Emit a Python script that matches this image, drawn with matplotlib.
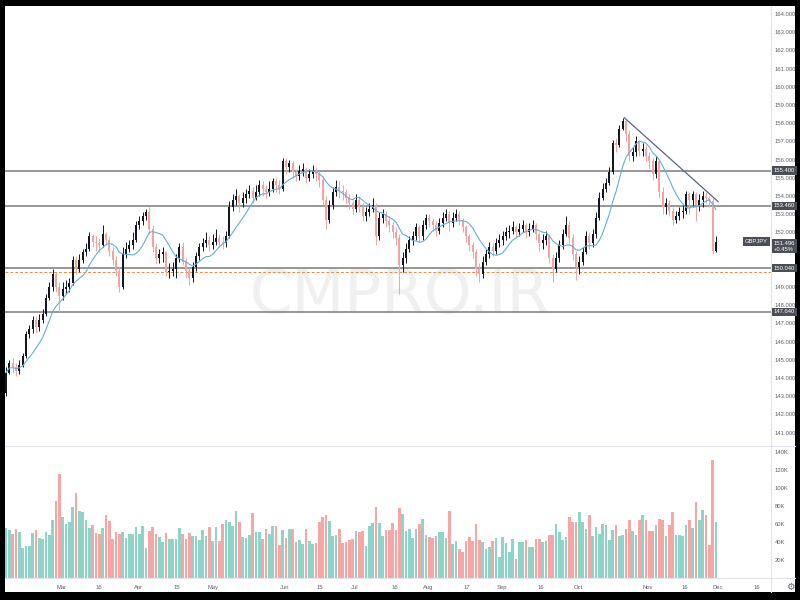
import matplotlib.pyplot as plt
import matplotlib.transforms as mtransforms
from matplotlib.patches import Rectangle
from matplotlib.lines import Line2D
import numpy as np
import pandas as pd

# GBPJPY daily, Feb - Nov 2021
first_open = 143.2
closes = [144.3, 144.8, 144.6, 144.4, 144.7, 145.2, 146.4, 146.7, 147.2, 146.8,
          147.2, 147.5, 148.4, 149.0, 149.7, 149.0, 148.5, 148.9, 149.0, 149.2,
          150.5, 150.0, 150.5, 150.9, 151.1, 151.8, 151.5, 151.4, 151.3, 151.9,
          151.6, 151.0, 150.5, 149.9, 149.0, 150.8, 151.1, 151.3, 151.6, 152.4,
          152.6, 152.9, 153.1, 152.2, 151.2, 150.6, 150.8, 150.9, 149.8, 149.9,
          150.0, 150.6, 151.2, 150.4, 149.9, 149.5, 150.1, 150.7, 151.2, 151.4,
          151.6, 151.3, 151.5, 151.7, 151.5, 151.4, 151.8, 153.4, 153.8, 154.0,
          153.6, 153.9, 154.1, 154.3, 153.9, 154.2, 154.6, 154.4, 154.2, 154.4,
          154.8, 154.6, 154.4, 155.9, 155.6, 155.8, 155.3, 155.1, 155.4, 155.5,
          155.0, 155.2, 155.4, 155.2, 154.9, 153.8, 152.7, 153.5, 154.2, 154.5,
          154.3, 154.2, 153.9, 153.6, 153.3, 153.8, 153.4, 152.9, 153.1, 153.3,
          153.5, 151.8, 152.8, 153.0, 152.6, 152.4, 152.0, 151.7, 150.2, 150.6,
          151.1, 151.6, 151.8, 152.3, 151.8, 152.4, 152.8, 152.6, 152.4, 152.1,
          152.5, 152.8, 153.0, 152.5, 152.8, 153.0, 152.7, 152.3, 151.8, 151.3,
          150.9, 150.0, 149.7, 150.4, 150.8, 151.2, 151.0, 151.4, 151.6, 151.8,
          152.0, 152.1, 152.3, 152.0, 152.2, 152.4, 152.0, 152.2, 152.4, 151.9,
          151.4, 151.6, 151.8, 150.6, 150.0, 150.6, 151.3, 151.9, 152.4, 151.7,
          150.8, 150.1, 150.4, 150.9, 151.8, 151.4, 151.9, 152.8, 153.9, 154.4,
          154.7, 155.3, 156.9, 156.8, 157.7, 158.1, 157.4, 156.2, 156.4, 157.0,
          156.5, 156.6, 156.2, 155.9, 155.2, 155.9, 154.2, 153.4, 153.6, 153.2,
          152.7, 152.9, 153.1, 153.2, 154.1, 153.8, 154.1, 153.5, 153.8, 154.0,
          153.9, 153.7, 151.0, 151.5]
highs = [144.6, 145.0, 145.1, 144.8, 145.0, 145.4, 146.6, 146.9, 147.4, 147.4,
         147.5, 147.8, 148.6, 149.3, 150.0, 149.8, 149.3, 149.3, 149.4, 149.5,
         150.7, 150.7, 150.8, 151.1, 151.4, 152.0, 151.9, 151.8, 151.7, 152.4,
         152.0, 151.8, 151.2, 150.7, 150.1, 151.2, 151.5, 151.6, 152.0, 152.6,
         152.9, 153.1, 153.3, 153.4, 152.4, 151.4, 151.1, 151.2, 151.0, 150.3,
         150.4, 150.8, 151.4, 151.5, 150.6, 150.1, 150.4, 150.9, 151.4, 151.7,
         152.0, 151.8, 151.9, 152.2, 151.9, 151.8, 152.1, 153.7, 154.1, 154.4,
         154.1, 154.2, 154.4, 154.6, 154.5, 154.6, 154.9, 154.8, 154.6, 154.8,
         155.0, 155.0, 154.9, 156.1, 156.1, 156.0, 155.9, 155.5, 155.7, 155.8,
         155.6, 155.5, 155.7, 155.6, 155.4, 155.1, 154.0, 153.8, 154.5, 154.9,
         154.8, 154.6, 154.4, 154.1, 153.8, 154.1, 154.0, 153.6, 153.4, 153.6,
         153.9, 153.6, 153.1, 153.3, 153.2, 152.9, 152.6, 152.3, 151.9, 150.9,
         151.4, 151.8, 152.1, 152.5, 152.4, 152.7, 153.0, 153.0, 152.8, 152.6,
         152.8, 153.1, 153.3, 153.2, 153.1, 153.3, 153.2, 152.8, 152.4, 151.9,
         151.5, 151.1, 150.3, 150.7, 151.1, 151.5, 151.4, 151.7, 151.9, 152.1,
         152.3, 152.4, 152.6, 152.4, 152.5, 152.7, 152.5, 152.5, 152.7, 152.5,
         152.0, 151.9, 152.1, 151.9, 150.8, 150.9, 151.6, 152.2, 152.9, 152.6,
         151.9, 151.0, 150.7, 151.2, 152.1, 152.0, 152.2, 153.1, 154.2, 154.7,
         155.0, 155.6, 157.1, 157.2, 157.9, 158.3, 158.2, 157.6, 156.7, 157.3,
         157.1, 156.9, 156.8, 156.4, 156.1, 156.2, 156.0, 154.5, 153.9, 153.8,
         153.4, 153.2, 153.4, 153.5, 154.3, 154.2, 154.3, 154.2, 154.1, 154.3,
         154.2, 154.0, 153.9, 151.8]
lows = [143.0, 144.2, 144.3, 144.1, 144.2, 144.6, 145.1, 146.2, 146.5, 146.5,
        146.6, 147.0, 147.4, 148.3, 148.8, 148.7, 147.6, 148.3, 148.6, 148.7,
        149.1, 149.7, 149.8, 150.3, 150.7, 151.0, 151.2, 151.0, 150.9, 151.2,
        151.3, 150.7, 150.2, 149.6, 148.7, 148.9, 150.6, 150.9, 151.1, 151.5,
        152.2, 152.4, 152.7, 151.9, 150.9, 150.3, 150.3, 150.4, 149.6, 149.5,
        149.6, 149.5, 150.4, 150.2, 149.5, 149.1, 149.3, 149.9, 150.5, 151.0,
        151.2, 151.0, 151.1, 151.3, 151.2, 151.1, 151.2, 151.7, 153.2, 153.5,
        153.1, 153.4, 153.6, 153.9, 153.6, 153.8, 154.0, 154.0, 153.9, 154.0,
        154.2, 154.2, 154.1, 154.3, 155.2, 155.3, 155.0, 154.8, 154.9, 155.1,
        154.7, 154.8, 155.0, 154.8, 154.5, 153.5, 152.2, 152.5, 153.3, 154.0,
        153.9, 153.8, 153.6, 153.3, 153.0, 153.1, 153.1, 152.6, 152.6, 152.9,
        153.1, 151.3, 151.6, 152.5, 152.3, 152.0, 151.7, 151.3, 148.6, 149.8,
        150.3, 150.9, 151.3, 151.6, 151.5, 151.6, 152.2, 152.3, 152.1, 151.8,
        151.9, 152.3, 152.6, 152.1, 152.3, 152.6, 152.4, 152.0, 151.5, 151.0,
        150.6, 149.6, 149.3, 149.5, 150.2, 150.6, 150.7, 150.8, 151.2, 151.3,
        151.6, 151.7, 151.9, 151.7, 151.8, 152.0, 151.7, 151.8, 152.0, 151.6,
        151.0, 151.1, 151.3, 150.3, 149.3, 149.8, 150.4, 151.1, 151.8, 151.4,
        150.5, 149.4, 149.7, 150.2, 150.8, 151.1, 151.2, 151.7, 152.7, 153.8,
        154.2, 154.6, 155.2, 156.4, 156.7, 157.6, 157.0, 155.9, 155.9, 156.2,
        156.2, 156.2, 155.9, 155.5, 154.9, 155.0, 153.9, 153.0, 153.0, 152.9,
        152.4, 152.5, 152.7, 152.8, 153.0, 153.0, 153.4, 152.6, 153.2, 153.4,
        153.6, 153.4, 150.8, 150.9]
volumes_k = [56, 53, 48.5, 54, 51, 33, 36, 35.5, 50, 53,
             45, 43, 51, 48, 64, 86, 115.5, 68, 60, 62,
             78.5, 95, 74.5, 73, 64, 56, 58.5, 50, 49, 56,
             70, 63, 43, 51, 48.5, 51, 45, 49, 49, 57,
             49, 58, 33, 52.5, 57, 49, 46, 40, 50, 43,
             43, 43, 56, 48.5, 43, 50, 47, 47, 42.5, 53,
             47, 56.7, 41, 57, 41, 60, 65, 62, 58, 74,
             62, 46, 45, 48, 72, 51, 51, 43, 55, 48.5,
             58, 58, 37, 53, 44, 55, 55, 40, 42, 37.5,
             55, 41, 37.5, 39, 62, 68, 70, 63, 46.7, 48,
             54.5, 39, 40, 42, 43, 52.5, 51, 52.5, 36, 58,
             61, 78.5, 61, 46.7, 53, 53, 61, 53, 78, 71,
             52.5, 54, 45, 55, 60, 66, 47.5, 46, 44, 46.7,
             51.5, 51.5, 45, 75, 37.5, 41, 32, 28.5, 41, 46,
             41, 60, 42, 40, 32, 34, 41.5, 45, 23.7, 46,
             39, 28.5, 43, 21, 40, 40, 42, 35, 35, 43,
             43, 40, 41, 48, 48, 60, 51, 42, 46, 68,
             62.5, 62.5, 73.7, 62.5, 55, 70, 46.7, 56.7, 49, 60,
             58.5, 42, 53, 59, 46.7, 48, 55, 64, 52, 48,
             64, 70, 65, 52.5, 52, 58.5, 66, 64, 47, 58.5,
             73, 48, 48, 47, 58.5, 64, 56, 84, 64, 76,
             70, 37, 131, 62.5]

levels = [155.40, 153.46, 150.04, 147.64]
level_labels = ['155.400', '153.460', '150.040', '147.640']
dashed_level = 149.82
last_price = 151.496
last_labels = '151.496\n+0.45%'
symbol = 'GBPJPY'
trend_x = [185.5, 213.6]
trend_y = [158.3, 153.7]

price_ticks = list(range(141, 165))
hidden_ticks = [150, 151]  # covered by the price boxes
vol_ticks = [20, 40, 60, 80, 100, 120, 140]
time_ticks = [16.8, 27.9, 39.9, 51.3, 62.1, 83.7, 94.2, 104.7, 116.7, 126.6,
              138.3, 148.8, 160.5, 171.6, 192.6, 203.7, 213.6, 225.3]
time_labels = ['Mar', '16', 'Apr', '15', 'May', 'Jun', '15', 'Jul', '16', 'Aug',
               '17', 'Sep', '16', 'Oct', 'Nov', '16', 'Dec', '16']

opens = [first_open] + closes[:-1]
x = np.arange(len(closes))
up = np.array(closes) >= np.array(opens)

UP_C = '#131722'
DN_C = '#f4a3a1'
VUP_C = '#8fd4c9'
VDN_C = '#f6a7a5'
TXT = '#5d606b'
SEP = '#e0e3eb'
FONT = 'Liberation Sans'

fig = plt.figure(figsize=(8, 6), dpi=100, facecolor='black')
fig.patches.append(Rectangle((5 / 800, 8 / 600), 790 / 800, 586 / 600,
                             transform=fig.transFigure, facecolor='white',
                             edgecolor='none', zorder=-10))

ax = fig.add_axes([5 / 800, 1 - 445 / 600, 766 / 800, 439 / 600])
axv = fig.add_axes([5 / 800, 1 - 578 / 600, 766 / 800, 131 / 600], sharex=ax)

for a in (ax, axv):
    a.set_facecolor('none')
    for s in a.spines.values():
        s.set_visible(False)
    a.tick_params(length=0, labelsize=4.2, colors=TXT)
    a.yaxis.tick_right()
    for lab in a.get_xticklabels() + a.get_yticklabels():
        lab.set_family(FONT)

# candles
o = np.array(opens)
c = np.array(closes)
body_lo = np.minimum(o, c)
body_h = np.maximum(np.abs(c - o), 0.05)
cols = np.where(up, UP_C, DN_C)
ax.vlines(x, lows, highs, colors=cols, linewidth=0.7, zorder=3)
ax.bar(x, body_h, bottom=body_lo, width=0.66, color=cols, zorder=4, linewidth=0)

# moving average
ma = pd.Series(closes).rolling(9, min_periods=1).mean()
ax.plot(x, ma, color='#62aee0', linewidth=0.8, zorder=5)

# levels and trend line
for lv in levels:
    ax.axhline(lv, color='#7b7b7b', linewidth=1.1, zorder=2)
ax.axhline(dashed_level, color='#f08a3c', linewidth=0.7, linestyle=(0, (3, 2)), zorder=2)
ax.plot(trend_x, trend_y, color='#56678a', linewidth=0.9, zorder=6)

ax.set_xlim(-0.3, 229.5)
ax.set_ylim(140.32, 164.44)
ax.set_yticks(price_ticks)
ax.set_yticklabels(['' if t in hidden_ticks else '%.3f' % t for t in price_ticks],
                   family=FONT)
ax.tick_params(axis='x', labelbottom=False)
ax.tick_params(axis='y', pad=2.5)

# volume
axv.bar(x, volumes_k, width=0.72, color=np.where(up, VUP_C, VDN_C), linewidth=0)
axv.set_ylim(0, 145.6)
axv.set_yticks(vol_ticks)
axv.set_yticklabels(['%dK' % v for v in vol_ticks], family=FONT)
axv.tick_params(axis='y', pad=2.5)
axv.set_xticks(time_ticks)
axv.set_xticklabels(time_labels, family=FONT)
axv.tick_params(axis='x', pad=5)

# separators
fig.lines.append(Line2D([771 / 800, 771 / 800], [8 / 600, 594 / 600],
                        transform=fig.transFigure, color=SEP, linewidth=0.8))
fig.lines.append(Line2D([5 / 800, 795 / 800], [1 - 446 / 600, 1 - 446 / 600],
                        transform=fig.transFigure, color=SEP, linewidth=0.8))
fig.lines.append(Line2D([5 / 800, 795 / 800], [1 - 578 / 600, 1 - 578 / 600],
                        transform=fig.transFigure, color=SEP, linewidth=0.8))

# watermark
fig.text(0.5, 1 - 297 / 600, 'CMPRO.IR', ha='center', va='center', fontsize=44,
         color='#f0f0f0', family='DejaVu Sans', zorder=-5)

# price scale labels
tr = mtransforms.blended_transform_factory(fig.transFigure, ax.transData)
box = dict(boxstyle='square,pad=0.3', facecolor='#4b4e57', edgecolor='none')
for lv, lab in zip(levels, level_labels):
    fig.text(773.5 / 800, lv, lab, transform=tr, fontsize=4.2, color='white',
             va='center', ha='left', family=FONT, bbox=box)
fig.text(773.5 / 800, last_price - 0.25, last_labels, transform=tr, fontsize=4.2,
         color='white', va='center', ha='left', linespacing=1.25, family=FONT, bbox=box)
fig.text(768 / 800, last_price, symbol, transform=tr, fontsize=4.2, color='white',
         va='center', ha='right', family=FONT, bbox=box)
fig.text(790 / 800, 1 - 587 / 600, '\u2699', fontsize=7, color='#6a6d78',
         ha='center', va='center')

fig.savefig('out.png', dpi=100, facecolor='black')
